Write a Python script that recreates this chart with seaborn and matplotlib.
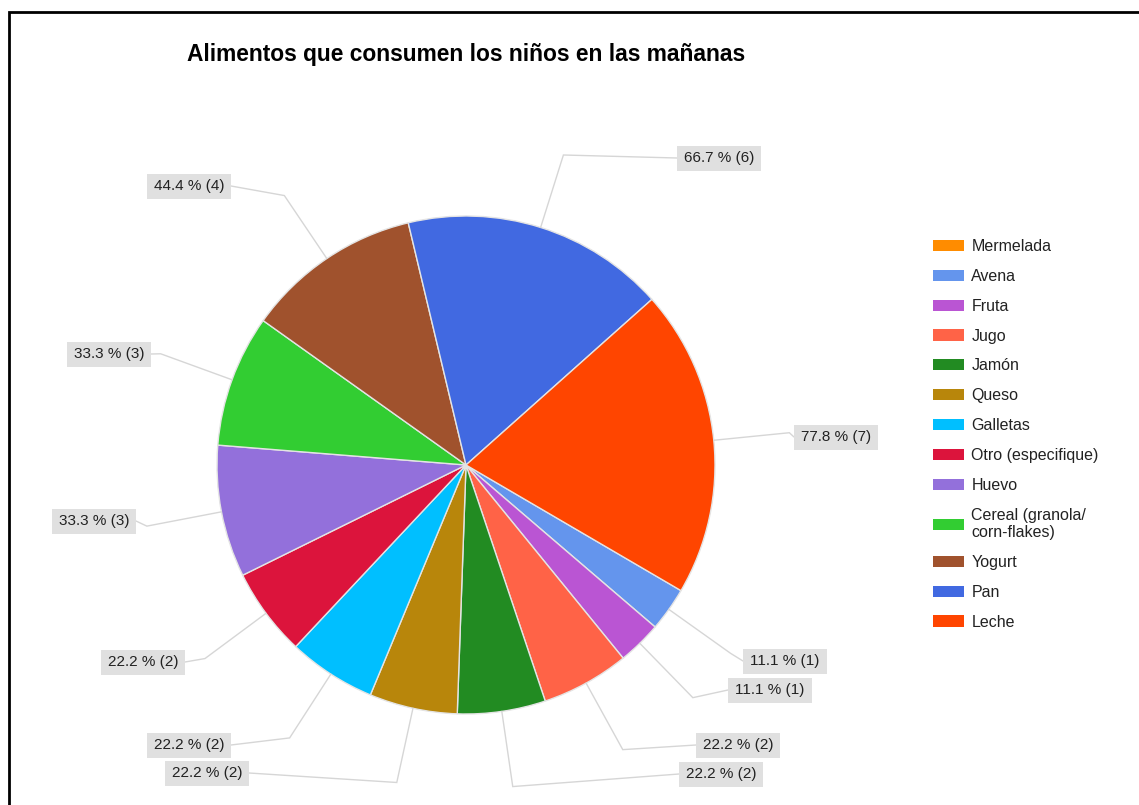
import numpy as np
import matplotlib
matplotlib.use("Agg")
import matplotlib.pyplot as plt
from matplotlib.patches import Patch, Rectangle
import seaborn as sns

# Morning foods reported for the children (9 respondents, multiple answers allowed)
foods = ["Mermelada", "Avena", "Fruta", "Jugo", "Jamón", "Queso", "Galletas",
         "Otro (especifique)", "Huevo", "Cereal (granola/\ncorn-flakes)",
         "Yogurt", "Pan", "Leche"]
counts = [0, 1, 1, 2, 2, 2, 2, 2, 3, 3, 4, 6, 7]
respondents = 9
colors = ["#FF8C00", "#6495ED", "#BA55D3", "#FF6347", "#228B22", "#B8860B",
          "#00BFFF", "#DC143C", "#9370DB", "#32CD32", "#A0522D", "#4169E1",
          "#FF4500"]
title = "Alimentos que consumen los niños en las mañanas"

# ---- layout (pixels) ----
W, H = 1139, 805
CX, CY, R = 466, 465, 249          # pie centre and radius
START_ANGLE = -30.3
BEND = 1.305                       # leader elbow, in pie radii
BOX_W, BOX_H = 84, 25
label_pos_px = {
    "Avena": (785, 661), "Fruta": (770, 690), "Jugo": (738, 745),
    "Jamón": (721, 774), "Queso": (207, 773), "Galletas": (189, 745),
    "Otro (especifique)": (143, 662), "Huevo": (94, 521),
    "Cereal (granola/\ncorn-flakes)": (109, 354), "Yogurt": (189, 186),
    "Pan": (719, 158), "Leche": (836, 437),
}

sns.set_style("white")
plt.rcParams["font.family"] = ["Liberation Sans", "DejaVu Sans"]


def px(x, y):
    """Pixel position -> data units (pie radius = 1, centred at 0)."""
    return (x - CX) / R, (CY - y) / R


fig = plt.figure(figsize=(W / 100, H / 100), dpi=100, facecolor="white")
ax = fig.add_axes([0, 0, 1, 1])

wedges, _ = ax.pie(counts, colors=sns.color_palette(colors), startangle=START_ANGLE,
                   counterclock=False, radius=1, center=(0, 0),
                   wedgeprops=dict(edgecolor="#e4e4e4", linewidth=1.0))

ax.set_xlim(-CX / R, (W - CX) / R)
ax.set_ylim((CY - H) / R, CY / R)
ax.set_aspect("auto")
ax.axis("off")

# percentage labels with leader lines
bw, bh = BOX_W / R, BOX_H / R
for w, name, c in zip(wedges, foods, counts):
    if c == 0:
        continue
    mid = np.deg2rad((w.theta1 + w.theta2) / 2)
    ux, uy = np.cos(mid), np.sin(mid)
    bx, by = px(*label_pos_px[name])
    ex, ey = ux * BEND, uy * BEND
    side = bx - bw / 2 if bx > ex else bx + bw / 2
    ax.plot([ux, ex, side], [uy, ey, by], color="#d6d6d6", lw=1.0,
            solid_joinstyle="miter", zorder=1)
    ax.add_patch(Rectangle((bx - bw / 2, by - bh / 2), bw, bh,
                           facecolor="#e0e0e0", edgecolor="none", zorder=2))
    ax.text(bx, by, f"{c / respondents * 100:.1f} % ({c})", ha="center",
            va="center", fontsize=11, color="#222222", zorder=3)

# title centred over the pie
fig.text(CX / W, 1 - 54 / H, title, ha="center", va="center",
         fontsize=16.4, fontweight="bold", color="black")

# legend
handles = [Patch(facecolor=col, edgecolor="none") for col in colors]
ax.legend(handles, foods, loc="upper left",
          bbox_to_anchor=(933 / W, 1 - 239 / H), bbox_transform=fig.transFigure,
          frameon=False, borderpad=0, borderaxespad=0, fontsize=11.5,
          handlelength=1.95, handleheight=0.7, handletextpad=0.45,
          labelspacing=0.93, labelcolor="#222222")

# outer frame
fig.patches.append(Rectangle((9 / W, -0.05), 1.2, (1 - 12 / H) + 0.05,
                             transform=fig.transFigure, fill=False,
                             edgecolor="black", linewidth=2, zorder=10))

fig.savefig("out.png", dpi=100, facecolor="white")
